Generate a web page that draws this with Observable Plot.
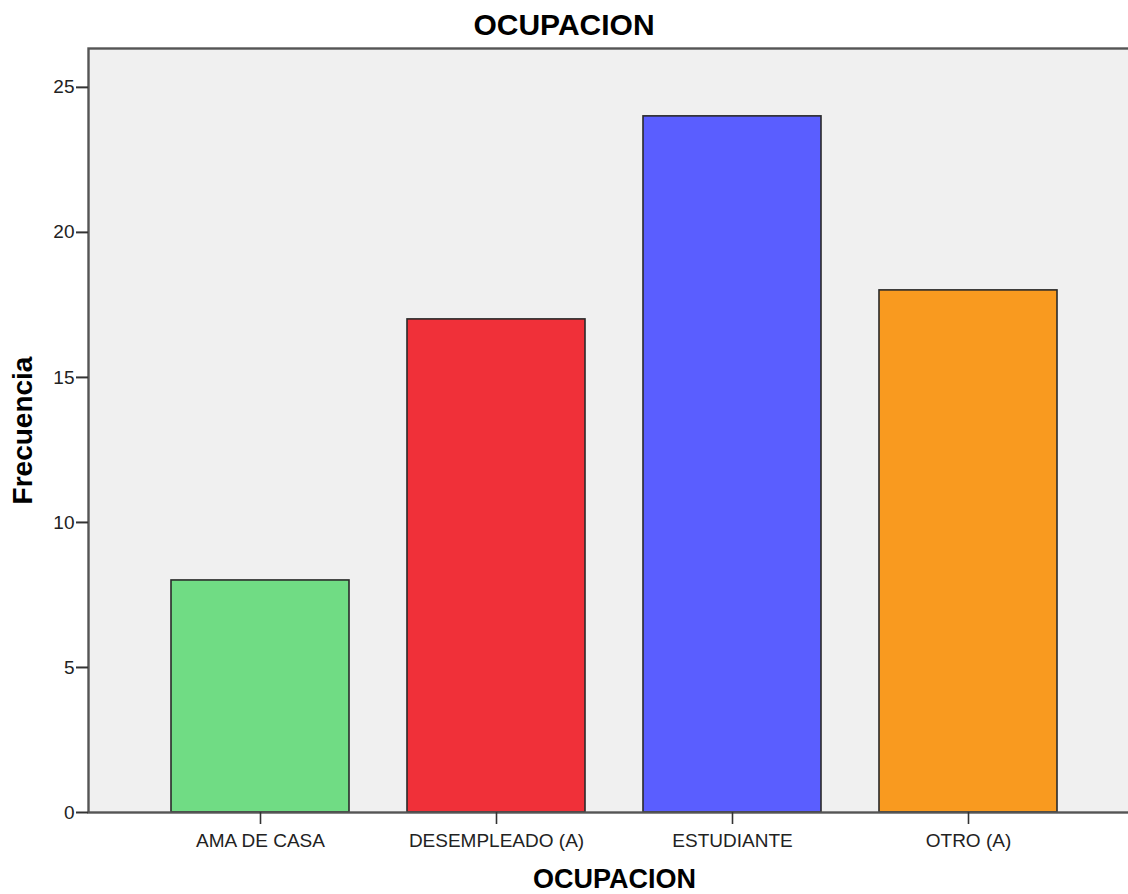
<!DOCTYPE html>
<html>
<head>
<meta charset="utf-8">
<script src="https://cdn.jsdelivr.net/npm/d3@7"></script>
<script src="https://cdn.jsdelivr.net/npm/@observablehq/plot@0.6"></script>
<style>
  html, body { margin: 0; padding: 0; background: white; }
  #title { font: bold 30px "Liberation Sans", Arial, sans-serif; height: 40px; line-height: 50px; text-align: center; color: #000; overflow: visible; }
  #chart { width: 1128px; overflow: hidden; }
</style>
</head>
<body>
<div id="title">OCUPACION</div>
<div id="chart"></div>
<script>
const categories = ["AMA DE CASA", "DESEMPLEADO (A)", "ESTUDIANTE", "OTRO (A)"];
const frequencies = [8, 17, 24, 18];
const barColors = ["#70dc84", "#f03039", "#5a5eff", "#f99a1f"];
const yTicks = [0, 5, 10, 15, 20, 25];
const xTitle = "OCUPACION";
const yTitle = "Frecuencia";

const data = categories.map((c, i) => ({cat: c, value: frequencies[i]}));

const chart = Plot.plot({
  width: 1128,
  height: 854,
  marginTop: 8,
  marginBottom: 82,
  marginLeft: 88,
  marginRight: -4,
  style: {fontFamily: "'Liberation Sans', Arial, sans-serif", background: "white", color: "#222"},
  x: {type: "band", domain: categories, range: [88, 1140], paddingInner: 0.247, paddingOuter: 0.347, align: 0.5},
  y: {domain: [0, 26.34]},
  color: {domain: categories, range: barColors},
  marks: [
    Plot.frame({fill: "#f0f0f0", stroke: null}),
    Plot.barY(data, {x: "cat", y: "value", fill: "cat", stroke: "#2a2a2a", strokeWidth: 1.6}),
    Plot.frame({stroke: "#555", strokeWidth: 2.4, fill: "none"}),
    Plot.axisY({ticks: yTicks, tickSize: 12, tickPadding: 2, fontSize: 19, label: null, stroke: "#333", strokeWidth: 2}),
    Plot.axisX({tickSize: 12, tickPadding: 9, fontSize: 19, label: null, stroke: "#333", strokeWidth: 1.6}),
    Plot.text([xTitle], {frameAnchor: "bottom", dx: 4, dy: 67, lineAnchor: "middle", textAnchor: "middle", fontSize: 27, fontWeight: "bold", fill: "#000"}),
    Plot.text([yTitle], {frameAnchor: "left", dx: -65.5, rotate: -90, lineAnchor: "middle", textAnchor: "middle", fontSize: 28, fontWeight: "bold", fill: "#000"})
  ]
});
document.getElementById("chart").appendChild(chart);
</script>
</body>
</html>
